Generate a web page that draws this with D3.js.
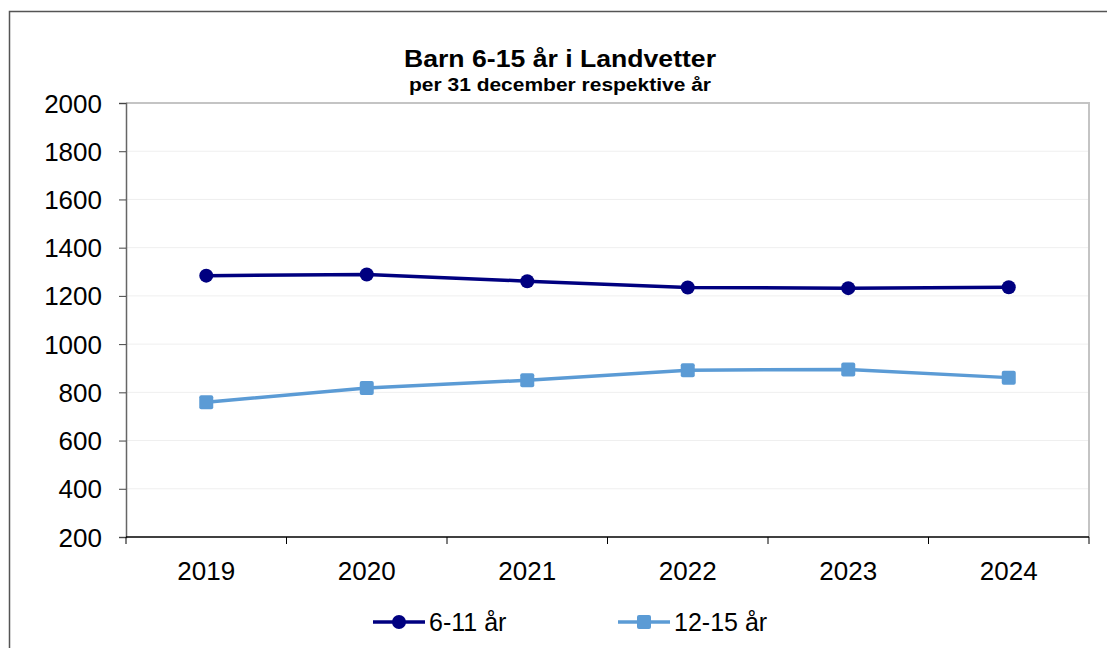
<!DOCTYPE html>
<html>
<head>
<meta charset="utf-8">
<script src="https://cdn.jsdelivr.net/npm/d3@7"></script>
<style>
  body { margin: 0; background: #fff; }
  svg { font-family: "Liberation Sans", Arial, sans-serif; display: block; }
</style>
</head>
<body>
<div id="chart"></div>
<script>
// Barn 6-15 år i Landvetter
var years = ["2019", "2020", "2021", "2022", "2023", "2024"]
var age6to11 = [1284, 1289, 1261, 1235, 1232, 1236]
var age12to15 = [759, 818, 850, 892, 895, 861]
var yTicks = [200, 400, 600, 800, 1000, 1200, 1400, 1600, 1800, 2000]

var width = 1107,
    height = 648

var plot = { left: 126, right: 1089, top: 103, bottom: 537 }

var darkBlue = "#000080",
    lightBlue = "#5b9bd5"

var svg = d3.select("#chart").append("svg")
    .attr("width", width)
    .attr("height", height)

// outer frame
svg.append("path")
    .attr("d", "M9.5," + height + "V11.5H" + width)
    .attr("fill", "none")
    .attr("stroke", "#555")
    .attr("stroke-width", 1.5)

svg.append("text")
    .attr("x", 560)
    .attr("y", 67)
    .attr("text-anchor", "middle")
    .attr("textLength", 312)
    .attr("lengthAdjust", "spacingAndGlyphs")
    .style("font-size", "24px")
    .style("font-weight", "bold")
    .text("Barn 6-15 år i Landvetter")

svg.append("text")
    .attr("x", 560)
    .attr("y", 91)
    .attr("text-anchor", "middle")
    .attr("textLength", 302)
    .attr("lengthAdjust", "spacingAndGlyphs")
    .style("font-size", "18px")
    .style("font-weight", "bold")
    .text("per 31 december respektive år")

var x = d3.scaleBand()
    .domain(years)
    .range([plot.left, plot.right])

var y = d3.scaleLinear()
    .domain([200, 2000])
    .range([plot.bottom, plot.top])

// gridlines
svg.append("g").selectAll("line")
    .data(yTicks.slice(1, -1)).enter()
  .append("line")
    .attr("x1", plot.left)
    .attr("x2", plot.right)
    .attr("y1", function(d) { return y(d) })
    .attr("y2", function(d) { return y(d) })
    .attr("stroke", "#efefef")
    .attr("stroke-width", 1)

// plot border (top and right)
svg.append("path")
    .attr("d", "M" + plot.left + "," + plot.top + "H" + plot.right + "V" + plot.bottom)
    .attr("fill", "none")
    .attr("stroke", "#c4c4c4")
    .attr("stroke-width", 2)

// y axis
var yAxis = svg.append("g")
    .attr("transform", "translate(" + plot.left + ",0)")
    .call(d3.axisLeft(y).tickValues(yTicks).tickFormat(d3.format("d")).tickSize(7).tickPadding(17))
yAxis.select(".domain").attr("stroke", "#666").attr("stroke-width", 1.5)
yAxis.selectAll(".tick line").attr("stroke", "#444")
yAxis.selectAll("text")
    .attr("fill", "#000")
    .style("font-size", "26px")
    .attr("dy", "0.35em")

// x axis, ticks at category boundaries
var xAxis = svg.append("g")
    .attr("transform", "translate(0," + plot.bottom + ")")
xAxis.append("line")
    .attr("x1", plot.left)
    .attr("x2", plot.right)
    .attr("stroke", "#000")
    .attr("stroke-width", 1.5)
xAxis.selectAll("line.tick")
    .data(years.concat(["end"])).enter()
  .append("line")
    .classed("tick", true)
    .attr("x1", function(d, i) { return i < years.length ? x(d) : plot.right })
    .attr("x2", function(d, i) { return i < years.length ? x(d) : plot.right })
    .attr("y1", 0)
    .attr("y2", 7)
    .attr("stroke", "#000")
xAxis.selectAll("text")
    .data(years).enter()
  .append("text")
    .attr("x", function(d) { return x(d) + x.bandwidth() / 2 })
    .attr("y", 43)
    .attr("text-anchor", "middle")
    .style("font-size", "26px")
    .text(function(d) { return d })

var line = d3.line()
    .x(function(d, i) { return x(years[i]) + x.bandwidth() / 2 })
    .y(function(d) { return y(d) })

function drawSeries(values, color, shape) {
  svg.append("path")
      .datum(values)
      .attr("d", line)
      .attr("fill", "none")
      .attr("stroke", color)
      .attr("stroke-width", 3.5)

  var g = svg.append("g")
  values.forEach(function(v, i) {
    var cx = x(years[i]) + x.bandwidth() / 2, cy = y(v)
    drawMarker(g, cx, cy, color, shape)
  })
}

function drawMarker(g, cx, cy, color, shape) {
  if (shape == "circle") {
    g.append("circle")
        .attr("cx", cx)
        .attr("cy", cy)
        .attr("r", 7)
        .attr("fill", color)
  } else {
    g.append("rect")
        .attr("x", cx - 7)
        .attr("y", cy - 7)
        .attr("width", 14)
        .attr("height", 14)
        .attr("rx", 2)
        .attr("fill", color)
  }
}

drawSeries(age6to11, darkBlue, "circle")
drawSeries(age12to15, lightBlue, "square")

// legend
var legend = [
  { label: "6-11 år", color: darkBlue, shape: "circle", x: 373 },
  { label: "12-15 år", color: lightBlue, shape: "square", x: 618 }
]
legend.forEach(function(d) {
  var ly = 622
  svg.append("line")
      .attr("x1", d.x)
      .attr("x2", d.x + 52)
      .attr("y1", ly)
      .attr("y2", ly)
      .attr("stroke", d.color)
      .attr("stroke-width", 3.5)
  drawMarker(svg, d.x + 26, ly, d.color, d.shape)
  svg.append("text")
      .attr("x", d.x + 56)
      .attr("y", ly)
      .attr("dy", "0.35em")
      .style("font-size", "25px")
      .text(d.label)
})
</script>
</body>
</html>
